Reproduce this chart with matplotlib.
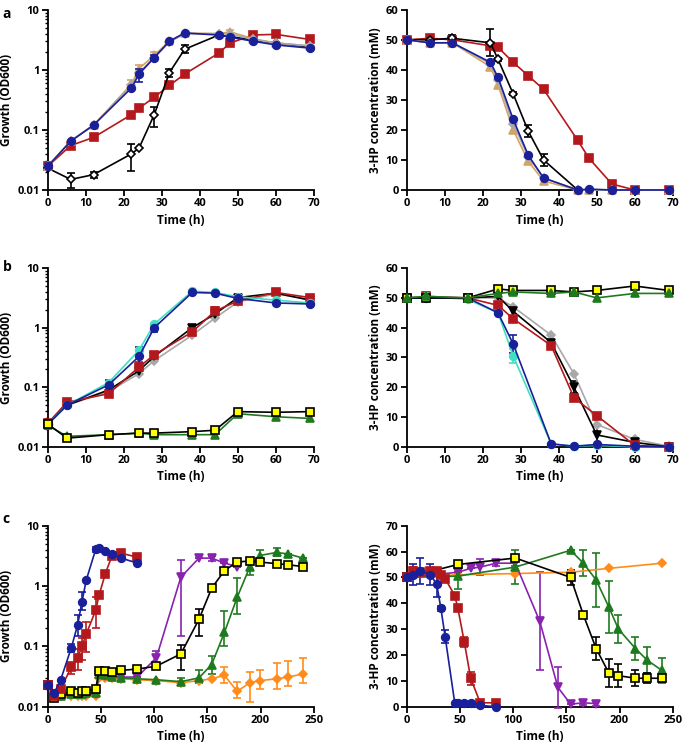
import numpy as np
import matplotlib
matplotlib.use("Agg")
import matplotlib.pyplot as plt
from matplotlib.ticker import LogLocator, NullFormatter

plt.rcParams['font.family'] = ['Open Sans', 'DejaVu Sans']
plt.rcParams['font.weight'] = 'bold'

# colours
BLUE = '#1a1f9a'
RED = '#b3191c'
TAN = '#d4a366'
GREY = '#a8a8a8'
CYAN = '#3fe0c0'
GREEN = '#1f7a1f'
PURPLE = '#8a22b0'
ORANGE = '#ff8c1a'

# growth panels: error bars as (low, high) bounds, None = no bar
# ---- panel a ----
ta = [0, 6, 12, 22, 24, 28, 32, 36, 45, 48, 54, 60, 69]
a_od_blue = [0.025, 0.065, 0.12, 0.5, 0.85, 1.6, 3.0, 4.1, 3.8, 3.5, 3.0, 2.6, 2.3]
a_od_blue_err = {4: (0.62, 1.05), 5: (1.45, 1.75)}
a_od_tan = [0.025, 0.065, 0.12, 0.58, 1.05, 1.75, 3.0, 4.1, 4.0, 4.3, 3.3, 2.8, 2.5]
a_od_tan_err = {3: (0.5, 0.68), 4: (0.9, 1.2), 5: (1.6, 1.95), 9: (4.1, 4.6)}
a_od_grey = [0.025, 0.066, 0.12, 0.55, 0.9, 1.6, 2.9, 4.0, 4.0, 4.0, 3.2, 2.8, 2.5]
a_od_red = [0.025, 0.055, 0.075, 0.18, 0.23, 0.35, 0.55, 0.85, 1.9, 2.8, 3.8, 3.9, 3.2]
a_od_wht = [0.023, 0.015, 0.018, 0.04, 0.05, 0.18, 0.9, 2.2, 3.8, 3.6, 3.1, 2.8, 2.4]
a_od_wht_err = {1: (0.011, 0.019), 2: (0.016, 0.02), 3: (0.021, 0.058),
                5: (0.11, 0.24), 6: (0.75, 1.05), 7: (1.9, 2.6)}

a_hp_blue = [50, 49, 49, 42.5, 37.5, 23.5, 11.5, 4, 0, 0.3, 0, 0, 0]
a_hp_tan = [50, 49, 49, 41, 35, 20, 9.5, 3, 0, 0, 0, 0, 0]
a_hp_grey = [50, 49, 49, 42, 36.5, 22, 11, 4, 0, 0, 0, 0, 0]
a_hp_red = [50, 50.5, 50, 48, 47.5, 42.5, 38, 33.5, 16.5, 10.5, 2, 0, 0]
a_hp_wht = [50, 50, 50.5, 49, 43.5, 32, 19.5, 10, 0, 0, 0, 0, 0]
a_hp_wht_sd = [0, 0, 1, 4.5, 0.5, 0.5, 2, 2, 0, 0, 0, 0, 0]

# ---- panel b ----
tb = [0, 5, 16, 24, 28, 38, 44, 50, 60, 69]
b_od_blue = [0.024, 0.05, 0.11, 0.33, 1.0, 3.9, 3.8, 3.1, 2.6, 2.5]
b_od_blue_err = {2: (0.09, 0.135), 3: (0.19, 0.48), 4: (0.85, 1.15)}
b_od_cyan = [0.024, 0.05, 0.12, 0.42, 1.15, 4.1, 3.9, 3.3, 2.9, 2.6]
b_od_red = [0.025, 0.056, 0.078, 0.22, 0.35, 0.85, 1.9, 2.8, 3.9, 3.2]
b_od_red_err = {3: (0.17, 0.27), 5: (0.75, 1.0), 6: (1.6, 2.2)}
b_od_black = [0.024, 0.05, 0.09, 0.19, 0.33, 1.0, 1.7, 3.2, 3.8, 2.9]
b_od_grey = [0.024, 0.05, 0.085, 0.17, 0.28, 0.75, 1.45, 2.7, 3.7, 3.0]
b_od_yel = [0.024, 0.014, 0.016, 0.017, 0.017, 0.018, 0.019, 0.039, 0.038, 0.039]
b_od_grn = [0.023, 0.015, 0.016, 0.017, 0.016, 0.016, 0.016, 0.036, 0.032, 0.030]

b_hp_yel = [50, 50, 50, 53, 52.5, 52.5, 52, 52.5, 54, 52.5]
b_hp_grn = [50, 50.5, 50, 51.5, 52, 51.5, 52, 50, 51.5, 51.5]
b_hp_blue = [50, 50, 50, 45, 34.5, 1, 0.2, 0.8, 0.2, 0]
b_hp_blue_sd = [0, 0, 0, 0, 3, 0, 0, 0, 0, 0]
b_hp_cyan = [50, 50.5, 49.5, 45, 30.5, 1, 0.2, 0.5, 0, 0]
b_hp_cyan_sd = [0, 1.5, 0, 0, 2.5, 0, 0, 0, 0, 0]
b_hp_red = [50, 50.5, 50, 47.5, 43, 34, 16.5, 10.5, 0.5, 0]
b_hp_black = [50, 50, 50, 50.5, 45.5, 35, 20, 4, 1.5, 0]
b_hp_black_sd = [0, 0, 0, 0, 1.5, 0, 2, 3, 0.5, 0]
b_hp_grey = [50, 50, 50, 50, 47, 37.5, 24.5, 7.5, 2.5, 0.2]

# ---- panel c ----
tc1 = [0, 6, 12, 22, 28, 32, 36, 45, 48, 54, 60, 69, 84]
c_od_blue = [0.023, 0.017, 0.028, 0.095, 0.23, 0.55, 1.25, 4.1, 4.2, 3.8, 3.4, 2.9, 2.4]
c_od_blue_err = {3: (0.08, 0.11), 4: (0.15, 0.33), 5: (0.4, 0.8), 7: (3.7, 4.5)}
c_od_red = [0.023, 0.015, 0.02, 0.045, 0.065, 0.1, 0.16, 0.4, 0.7, 1.6, 3.1, 3.5, 3.0]
c_od_red_err = {3: (0.035, 0.055), 4: (0.04, 0.09), 5: (0.06, 0.14), 6: (0.08, 0.25),
                7: (0.2, 0.65)}
tc2 = [0, 6, 12, 22, 28, 32, 36, 45, 48, 54, 60, 69, 84, 102, 125, 142, 154, 166, 178]
c_od_pur = [0.023, 0.014, 0.015, 0.017, 0.016, 0.017, 0.016, 0.016, 0.033, 0.032,
            0.031, 0.031, 0.031, 0.065, 1.4, 2.9, 2.9, 2.4, 2.1]
c_od_pur_err = {13: (0.05, 0.085), 14: (0.15, 2.7), 16: (2.6, 3.2)}
tc3 = [0, 6, 12, 22, 28, 32, 36, 45, 48, 54, 60, 69, 84, 102, 125, 142, 154, 166,
       178, 190, 199, 215, 226, 240]
c_od_yel = [0.023, 0.014, 0.016, 0.018, 0.017, 0.018, 0.018, 0.02, 0.039, 0.039, 0.038,
            0.04, 0.042, 0.047, 0.075, 0.28, 0.92, 1.8, 2.5, 2.6, 2.5, 2.35, 2.25, 2.1]
c_od_yel_err = {14: (0.04, 0.105), 15: (0.15, 0.41)}
c_od_grn = [0.023, 0.015, 0.015, 0.016, 0.016, 0.016, 0.017, 0.017, 0.035, 0.033, 0.031,
            0.03, 0.029, 0.028, 0.026, 0.03, 0.05, 0.17, 0.65, 2.1, 3.2, 3.6, 3.4, 2.9]
c_od_grn_err = {14: (0.023, 0.03), 15: (0.025, 0.04), 16: (0.035, 0.068),
                17: (0.1, 0.38), 18: (0.35, 1.35), 19: (1.5, 2.6), 20: (2.6, 3.9),
                21: (3.2, 4.2)}
c_od_org = [0.023, 0.015, 0.015, 0.015, 0.015, 0.015, 0.015, 0.015, 0.03, 0.03, 0.03,
            0.029, 0.028, 0.027, 0.025, 0.027, 0.029, 0.033, 0.018, 0.025, 0.027, 0.029,
            0.031, 0.035]
c_od_org_err = {14: (0.023, 0.027), 17: (0.025, 0.046), 18: (0.014, 0.026),
                19: (0.012, 0.038), 20: (0.02, 0.04), 21: (0.02, 0.052),
                22: (0.022, 0.058), 23: (0.025, 0.065)}

c_hp_blue = [50, 51, 52.5, 51, 47.5, 38, 27, 1.5, 1.5, 1.5, 1.5, 0.5, 0]
c_hp_blue_sd = [0, 4, 5, 4, 5, 1, 2.5, 0, 0, 0, 0, 0, 0]
c_hp_red = [50, 52.5, 52, 52.5, 52.5, 51, 49.5, 43, 38, 25, 11, 1.5, 1.5]
c_hp_red_sd = [0, 1.5, 1, 1, 1, 0, 0, 0, 0, 2, 2.5, 0, 0]
tc_pur_hp = [0, 48, 60, 69, 84, 102, 125, 142, 154, 166, 178]
c_hp_pur = [50, 52, 53.5, 54, 55.5, 55.5, 33, 7.5, 1, 1.5, 1.2]
c_hp_pur_sd = [0, 0, 0, 3, 1, 1, 19, 8, 0, 1, 1]
tc_long = [0, 48, 102, 154, 166, 178, 190, 199, 215, 226, 240]
c_hp_yel = [50, 55, 57.5, 50, 35.5, 22.5, 13, 12, 11, 11, 11]
c_hp_yel_sd = [0, 0, 0, 3, 0, 4.5, 5.5, 4.5, 3, 2, 1.5]
c_hp_grn = [50, 50.5, 54, 60.5, 55.5, 49, 38.5, 30, 22.5, 18, 14]
c_hp_grn_sd = [0, 5, 6.5, 0, 5, 10.5, 10, 5.5, 4.5, 5, 5]
tc_org_hp = [0, 48, 102, 154, 190, 240]
c_hp_org = [50, 51, 51.5, 52, 53.5, 55.5]


def to_yerr(y, err):
    # turn {index: (low, high)} bounds into matplotlib's 2xN yerr
    lo = np.zeros(len(y))
    hi = np.zeros(len(y))
    for i, (a, b) in err.items():
        lo[i] = y[i] - a
        hi[i] = b - y[i]
    return [lo, hi]


def series(ax, x, y, color, marker, err=None, mfc=None, mec=None, ms=5.5, z=3):
    mfc = color if mfc is None else mfc
    mec = color if mec is None else mec
    if isinstance(err, dict):
        err = to_yerr(y, err)
    ax.errorbar(x, y, yerr=err, color=color, marker=marker, ms=ms, mfc=mfc, mec=mec,
                mew=1.2, lw=1.2, capsize=3, elinewidth=1.2, capthick=1.2,
                clip_on=False, zorder=z)


def style(ax, xmax, xstep, log=False, ymax=60):
    for s in ['top', 'right']:
        ax.spines[s].set_visible(False)
    for s in ['left', 'bottom']:
        ax.spines[s].set_linewidth(1.3)
    ax.set_xlim(0, xmax)
    ax.set_xticks(np.arange(0, xmax + 1, xstep))
    if log:
        ax.set_yscale('log')
        ax.set_ylim(0.01, 10)
        ax.set_yticks([0.01, 0.1, 1, 10])
        ax.set_yticklabels(['0.01', '0.1', '1', '10'])
        ax.yaxis.set_minor_locator(LogLocator(base=10, subs=np.arange(2, 10)))
        ax.yaxis.set_minor_formatter(NullFormatter())
        ax.set_ylabel('Growth (OD600)', fontsize=8.5, fontweight='bold', labelpad=3)
    else:
        ax.set_ylim(0, ymax)
        ax.set_yticks(np.arange(0, ymax + 1, 10))
        ax.set_ylabel('3-HP concentration (mM)', fontsize=8.5, fontweight='bold', labelpad=3)
    ax.tick_params(which='major', length=4, width=1.3, labelsize=8, pad=2)
    ax.tick_params(which='minor', length=2.5, width=1)
    ax.set_xlabel('Time (h)', fontsize=8.5, fontweight='bold', labelpad=3)


fig = plt.figure(figsize=(6.85, 7.51), dpi=100)
L1, L2, W = 0.070, 0.594, 0.388
axa1 = fig.add_axes([L1, 0.747, W, 0.240])
axa2 = fig.add_axes([L2, 0.747, W, 0.240])
axb1 = fig.add_axes([L1, 0.405, W, 0.238])
axb2 = fig.add_axes([L2, 0.405, W, 0.238])
axc1 = fig.add_axes([L1, 0.059, W, 0.241])
axc2 = fig.add_axes([L2, 0.059, W, 0.241])

# a left
series(axa1, ta, a_od_red, RED, 's')
series(axa1, ta, a_od_wht, 'black', 'D', a_od_wht_err, mfc='white', mec='black', ms=4.5)
series(axa1, ta, a_od_tan, TAN, '^', a_od_tan_err)
series(axa1, ta, a_od_grey, GREY, 'D', ms=4.5)
series(axa1, ta, a_od_blue, BLUE, 'o', a_od_blue_err, z=4)
style(axa1, 70, 10, log=True)

# a right
series(axa2, ta, a_hp_red, RED, 's')
series(axa2, ta, a_hp_wht, 'black', 'D', a_hp_wht_sd, mfc='white', mec='black', ms=4.5)
series(axa2, ta, a_hp_tan, TAN, '^')
series(axa2, ta, a_hp_grey, GREY, 'D', ms=4.5)
series(axa2, ta, a_hp_blue, BLUE, 'o', z=4)
style(axa2, 70, 10, ymax=60)

# b left
series(axb1, tb, b_od_grey, GREY, 'D', ms=4.5)
series(axb1, tb, b_od_black, 'black', 'v')
series(axb1, tb, b_od_red, RED, 's', b_od_red_err)
series(axb1, tb, b_od_cyan, CYAN, 'o')
series(axb1, tb, b_od_blue, BLUE, 'o', b_od_blue_err)
series(axb1, tb, b_od_grn, GREEN, '^')
series(axb1, tb, b_od_yel, 'black', 's', mfc='yellow', mec='black')
style(axb1, 70, 10, log=True)

# b right
series(axb2, tb, b_hp_grey, GREY, 'D', ms=4.5)
series(axb2, tb, b_hp_black, 'black', 'v', b_hp_black_sd)
series(axb2, tb, b_hp_red, RED, 's')
series(axb2, tb, b_hp_cyan, CYAN, 'o', b_hp_cyan_sd)
series(axb2, tb, b_hp_blue, BLUE, 'o', b_hp_blue_sd)
series(axb2, tb, b_hp_yel, 'black', 's', mfc='yellow', mec='black')
series(axb2, tb, b_hp_grn, GREEN, '^')
style(axb2, 70, 10, ymax=60)

# c left
series(axc1, tc3, c_od_org, ORANGE, 'D', c_od_org_err, ms=4)
series(axc1, tc2, c_od_pur, PURPLE, 'v', c_od_pur_err)
series(axc1, tc3, c_od_grn, GREEN, '^', c_od_grn_err)
series(axc1, tc3, c_od_yel, 'black', 's', c_od_yel_err, mfc='yellow', mec='black', ms=6)
series(axc1, tc1, c_od_red, RED, 's', c_od_red_err)
series(axc1, tc1, c_od_blue, BLUE, 'o', c_od_blue_err)
style(axc1, 250, 50, log=True)

# c right
series(axc2, tc_org_hp, c_hp_org, ORANGE, 'D', ms=4)
series(axc2, tc_pur_hp, c_hp_pur, PURPLE, 'v', c_hp_pur_sd)
series(axc2, tc_long, c_hp_grn, GREEN, '^', c_hp_grn_sd)
series(axc2, tc_long, c_hp_yel, 'black', 's', c_hp_yel_sd, mfc='yellow', mec='black', ms=6)
series(axc2, tc1, c_hp_red, RED, 's', c_hp_red_sd)
series(axc2, tc1, c_hp_blue, BLUE, 'o', c_hp_blue_sd)
style(axc2, 250, 50, ymax=70)

for lab, y in [('a', 0.991), ('b', 0.654), ('c', 0.318)]:
    fig.text(0.004, y, lab, fontsize=10, fontweight='bold', va='top', ha='left')

fig.savefig('out.png', dpi=100)
